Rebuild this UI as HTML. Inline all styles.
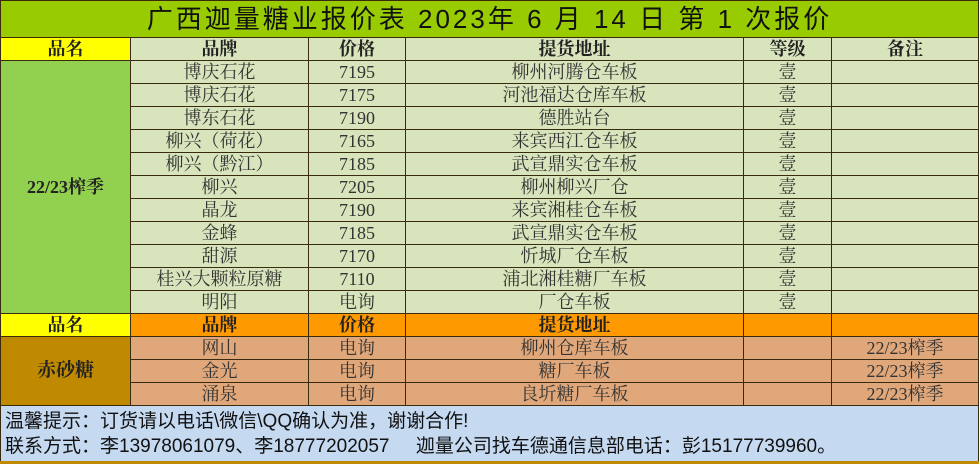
<!DOCTYPE html>
<html><head><meta charset="utf-8"><style>
body{margin:0;background:#fff;width:980px;height:463px;overflow:hidden}
table{position:absolute;left:0;top:0;border-collapse:collapse;table-layout:fixed;width:978px}
td{border:1px solid #3a2a10;padding:0;height:22px;line-height:22px;text-align:center;font-family:"Liberation Serif","Noto Serif CJK SC",serif;font-size:18px;color:#333;white-space:nowrap;overflow:hidden}
.t{background:#99cc00;font-family:"Liberation Sans","Noto Sans CJK SC",sans-serif;font-size:26px;color:#111;height:36px;line-height:36px;letter-spacing:3px}
.h{font-weight:bold;color:#222}
.y{background:#ffff00}
.g{background:#92d050}
.d{background:#d8e4bc}
.o{background:#ff9900}
.b{background:#bf8a00}
.r{background:#e0a77a}
.n{background:#c5d9f1;text-align:left;font-family:"Liberation Sans","Noto Sans CJK SC",sans-serif;font-size:19px;color:#111;line-height:25px;height:55px;padding-left:4px;border-bottom:3px solid #bf8a00}
</style></head><body>
<table>
<colgroup><col style="width:130px"><col style="width:178px"><col style="width:97px"><col style="width:338px"><col style="width:88px"><col style="width:147px"></colgroup>
<tr><td class="t" colspan="6">广西迦量糖业报价表 2023年 6 月 14 日 第 1 次报价</td></tr>
<tr><td class="y h">品名</td><td class="d h">品牌</td><td class="d h">价格</td><td class="d h">提货地址</td><td class="d h">等级</td><td class="d h">备注</td></tr>
<tr><td class="g h" rowspan="11" style="color:#222">22/23榨季</td><td class="d">博庆石花</td><td class="d">7195</td><td class="d">柳州河腾仓车板</td><td class="d">壹</td><td class="d"></td></tr>
<tr><td class="d">博庆石花</td><td class="d">7175</td><td class="d">河池福达仓库车板</td><td class="d">壹</td><td class="d"></td></tr>
<tr><td class="d">博东石花</td><td class="d">7190</td><td class="d">德胜站台</td><td class="d">壹</td><td class="d"></td></tr>
<tr><td class="d">柳兴（荷花）</td><td class="d">7165</td><td class="d">来宾西江仓车板</td><td class="d">壹</td><td class="d"></td></tr>
<tr><td class="d">柳兴（黔江）</td><td class="d">7185</td><td class="d">武宣鼎实仓车板</td><td class="d">壹</td><td class="d"></td></tr>
<tr><td class="d">柳兴</td><td class="d">7205</td><td class="d">柳州柳兴厂仓</td><td class="d">壹</td><td class="d"></td></tr>
<tr><td class="d">晶龙</td><td class="d">7190</td><td class="d">来宾湘桂仓车板</td><td class="d">壹</td><td class="d"></td></tr>
<tr><td class="d">金蜂</td><td class="d">7185</td><td class="d">武宣鼎实仓车板</td><td class="d">壹</td><td class="d"></td></tr>
<tr><td class="d">甜源</td><td class="d">7170</td><td class="d">忻城厂仓车板</td><td class="d">壹</td><td class="d"></td></tr>
<tr><td class="d">桂兴大颗粒原糖</td><td class="d">7110</td><td class="d">浦北湘桂糖厂车板</td><td class="d">壹</td><td class="d"></td></tr>
<tr><td class="d">明阳</td><td class="d">电询</td><td class="d">厂仓车板</td><td class="d">壹</td><td class="d"></td></tr>
<tr><td class="y h">品名</td><td class="o h">品牌</td><td class="o h">价格</td><td class="o h">提货地址</td><td class="o"></td><td class="o"></td></tr>
<tr><td class="b h" rowspan="3" style="font-size:19px;color:#222">赤砂糖</td><td class="r">网山</td><td class="r">电询</td><td class="r">柳州仓库车板</td><td class="r"></td><td class="r">22/23榨季</td></tr>
<tr><td class="r">金光</td><td class="r">电询</td><td class="r">糖厂车板</td><td class="r"></td><td class="r">22/23榨季</td></tr>
<tr><td class="r">涌泉</td><td class="r">电询</td><td class="r">良圻糖厂车板</td><td class="r"></td><td class="r">22/23榨季</td></tr>
<tr><td class="n" colspan="6">温馨提示：订货请以电话\微信\QQ确认为准，谢谢合作!<br>联系方式：李13978061079、李18777202057&nbsp;&nbsp;&nbsp;&nbsp;&nbsp;迦量公司找车德通信息部电话：彭15177739960。</td></tr>
</table>
</body></html>
